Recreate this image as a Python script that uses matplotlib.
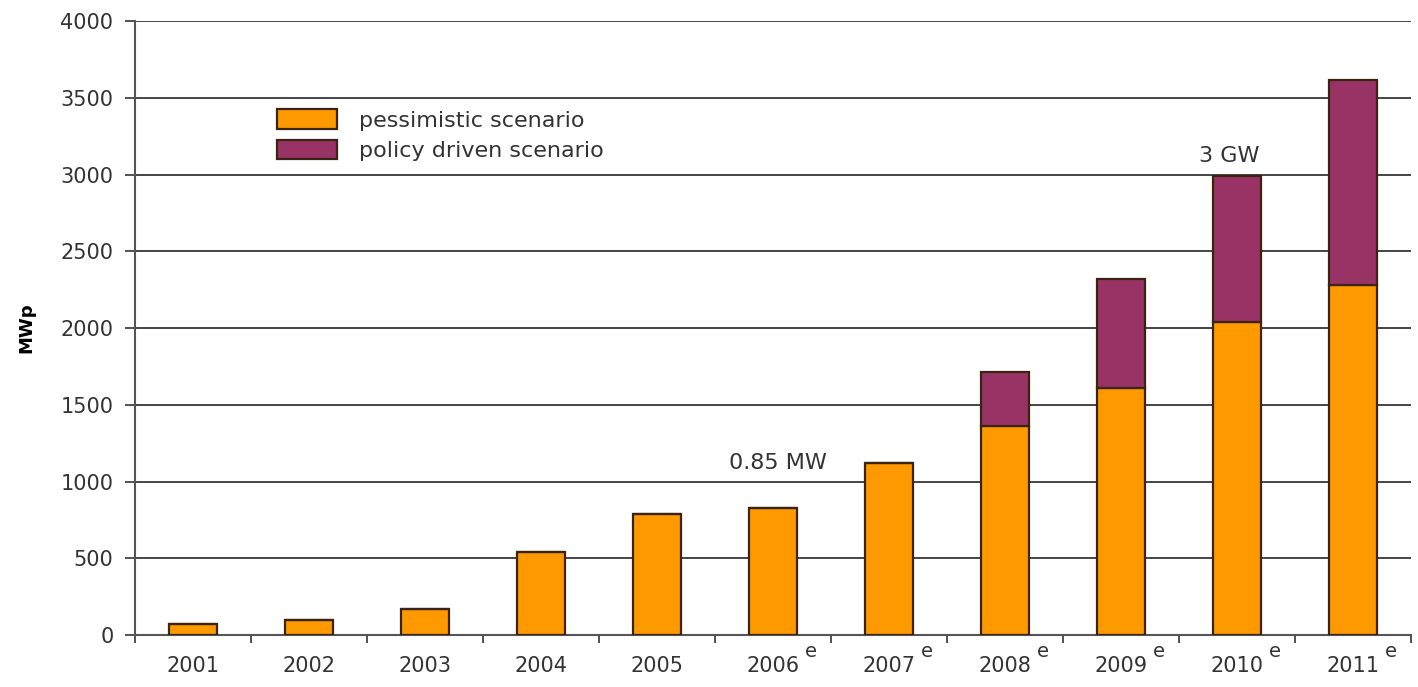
import matplotlib
matplotlib.use("Agg")
import matplotlib.pyplot as plt
import matplotlib.transforms as mtransforms
import numpy as np

# ==================== 数据 ====================
years = ["2001", "2002", "2003", "2004", "2005", "2006", "2007",
         "2008", "2009", "2010", "2011"]
estimated = [False, False, False, False, False, True, True,
             True, True, True, True]
pessimistic = [70, 100, 170, 540, 790, 830, 1120, 1360, 1610, 2040, 2280]
policy_total = [70, 100, 170, 540, 790, 830, 1120, 1715, 2320, 2990, 3620]
policy_extra = [t - p for t, p in zip(policy_total, pessimistic)]

ORANGE = "#FF9900"
PURPLE = "#993366"
EDGE = "#3a2410"
TEXT = "#333333"

plt.rcParams["font.family"] = ["DejaVu Sans"]

fig = plt.figure(figsize=(14.18, 6.87), dpi=100)
ax = fig.add_axes([0.0952, 0.0757, 0.8998, 0.8933])

x = np.arange(len(years))
ax.bar(x, pessimistic, width=0.41, color=ORANGE, edgecolor=EDGE,
       linewidth=1.6, label="pessimistic scenario", zorder=3)
ax.bar(x, policy_extra, width=0.41, bottom=pessimistic, color=PURPLE,
       edgecolor=EDGE, linewidth=1.6, label="policy driven scenario", zorder=3)

ax.set_xlim(-0.5, len(years) - 0.5)
ax.set_ylim(0, 4000)
ax.set_yticks(np.arange(0, 4001, 500))
ax.tick_params(axis="y", labelsize=15, colors=TEXT, length=7.5,
               width=1.2, direction="out", pad=8)

# x 轴刻度在类别边界，标签在类别中心
ax.set_xticks(np.arange(len(years) + 1) - 0.5)
ax.set_xticklabels([])
ax.tick_params(axis="x", length=6, width=1.2, direction="out",
               colors=TEXT)
ax.set_xticks(x, minor=True)
ax.set_xticklabels(years, minor=True)
ax.tick_params(axis="x", which="minor", length=0, labelsize=15,
               colors=TEXT, pad=15)

# 预测年份的上标 e
trans = mtransforms.blended_transform_factory(ax.transData, ax.transAxes)
for xi, est in zip(x, estimated):
    if est:
        ax.annotate("e", xy=(xi, 0), xycoords=trans,
                    xytext=(27, -12), textcoords="offset points",
                    fontsize=14, color=TEXT, ha="center", va="center")

ax.grid(axis="y", color="#444444", linewidth=1.4, zorder=0)
ax.set_axisbelow(True)
for side in ["top", "right"]:
    ax.spines[side].set_visible(False)
for side in ["left", "bottom"]:
    ax.spines[side].set_color("#555555")
    ax.spines[side].set_linewidth(1.5)

ax.set_ylabel("MWp", fontsize=13, fontweight="bold", labelpad=18)

ax.text(5.04, 1120, "0.85 MW", fontsize=16, color=TEXT,
        ha="center", va="center")
ax.text(8.93, 3120, "3 GW", fontsize=16, color=TEXT,
        ha="center", va="center")

ax.legend(loc="upper left", bbox_to_anchor=(0.111, 0.857), frameon=False,
          fontsize=16, handlelength=2.7, handleheight=1.0,
          handletextpad=1.0, labelspacing=0.4, borderpad=0,
          borderaxespad=0, labelcolor=TEXT)

fig.savefig("out.png", dpi=100)
